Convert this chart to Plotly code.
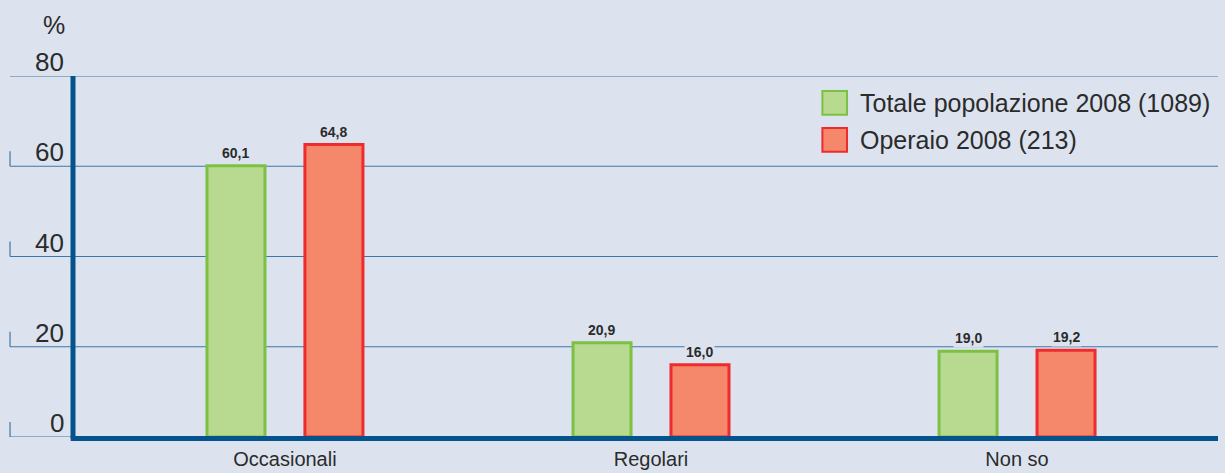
import plotly.graph_objects as go

categories = ["Occasionali", "Regolari", "Non so"]
totale = [60.1, 20.9, 19.0]
operaio = [64.8, 16.0, 19.2]
series_names = ["Totale popolazione 2008 (1089)", "Operaio 2008 (213)"]
y_ticks = [0, 20, 40, 60, 80]

BG = "#dce3ef"
GREEN_FILL, GREEN_LINE = "#b7d990", "#7cc143"
RED_FILL, RED_LINE = "#f5876a", "#ee2b2f"
AXIS = "#04538c"
GRID = "#3f76a6"
TXT = "#2b2b2b"
FONT = "Liberation Sans"

def fmt(v):
    return f"{v:.1f}".replace(".", ",")

W = 0.1585
fig = go.Figure()
fig.add_trace(go.Bar(x=categories, y=totale, name=series_names[0], width=W, offset=-0.213,
                     marker=dict(color=GREEN_FILL, line=dict(color=GREEN_LINE, width=3)),
                     showlegend=False, hoverinfo="skip"))
fig.add_trace(go.Bar(x=categories, y=operaio, name=series_names[1], width=W, offset=0.0546,
                     marker=dict(color=RED_FILL, line=dict(color=RED_LINE, width=3)),
                     showlegend=False, hoverinfo="skip"))

shapes = []
annotations = []
for t in y_ticks:
    shapes.append(dict(type="line", xref="paper", yref="y", x0=-0.055, x1=1 if t > 0 else 0,
                       y0=t, y1=t, line=dict(color=GRID, width=1.2), layer="below"))
    shapes.append(dict(type="line", xref="paper", yref="y", x0=-0.055, x1=-0.055, y0=t, y1=t + 3.3,
                       line=dict(color=GRID, width=1.2), layer="below"))
    annotations.append(dict(xref="paper", yref="y", x=-0.006, y=t, text=str(t), showarrow=False,
                            xanchor="right", yanchor="bottom", yshift=-3,
                            font=dict(family=FONT, size=26, color=TXT)))
# thick axes (paper-referenced so they are not clipped)
shapes.append(dict(type="line", xref="paper", yref="paper", x0=0, x1=0, y0=-0.004, y1=1,
                   line=dict(color=AXIS, width=5)))
shapes.append(dict(type="line", xref="paper", yref="paper", x0=-0.002, x1=1, y0=-0.004, y1=-0.004,
                   line=dict(color=AXIS, width=5)))
annotations.append(dict(xref="paper", yref="paper", x=-0.0166, y=1.0, text="%", showarrow=False,
                        xanchor="center", yanchor="middle", yshift=51,
                        font=dict(family=FONT, size=25, color=TXT)))

for vals, xs in ((totale, -49), (operaio, 49)):
    for c, v in zip(categories, vals):
        annotations.append(dict(x=c, y=v, text=f"<b>{fmt(v)}</b>", showarrow=False, xshift=xs,
                                yanchor="bottom", yshift=3, bgcolor=BG, borderpad=1,
                                font=dict(family="Arial", size=14, color=TXT)))

for i, (name, fill, line) in enumerate(((series_names[0], GREEN_FILL, GREEN_LINE),
                                         (series_names[1], RED_FILL, RED_LINE))):
    y_top = 76.7 - i * 8.2
    shapes.append(dict(type="rect", xref="paper", yref="y", x0=0.6545, x1=0.676,
                       y0=y_top - 5.3, y1=y_top, fillcolor=fill, line=dict(color=line, width=2)))
    annotations.append(dict(xref="paper", yref="y", x=0.686, y=y_top - 2.65, text=name,
                            showarrow=False, xanchor="left", yanchor="middle",
                            font=dict(family=FONT, size=25, color=TXT)))

fig.update_layout(
    width=1225, height=473,
    paper_bgcolor=BG, plot_bgcolor=BG,
    margin=dict(l=73, r=7, t=76, b=36, autoexpand=False),
    barmode="group",
    shapes=shapes, annotations=annotations,
    xaxis=dict(type="category", range=[-0.579, 2.549], showgrid=False, zeroline=False,
               showline=False, ticks="", ticklabelstandoff=8, automargin=False,
               tickfont=dict(family=FONT, size=20, color=TXT)),
    yaxis=dict(range=[0, 80], showgrid=False, zeroline=False, showline=False,
               showticklabels=False, ticks="", automargin=False),
    showlegend=False,
)
fig.write_html("out.html", config={"displayModeBar": False},
               post_script="document.body.style.margin='0';document.body.style.background='#dce3ef';")
